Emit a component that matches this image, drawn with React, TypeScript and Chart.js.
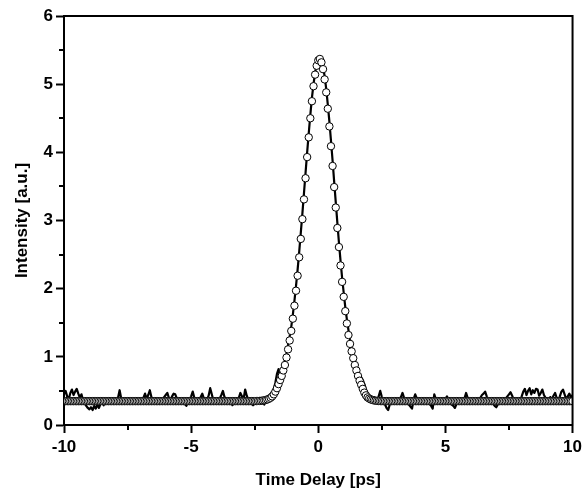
import React, { useEffect, useRef } from "react";
import { Chart, registerables } from "chart.js";

Chart.register(...registerables);

// Sampling grid of the delay scan (ps)
const X_START = -10;
const X_STEP = 0.0625;

const xTicks = [-10, -5, 0, 5, 10];
const yTicks = [0, 1, 2, 3, 4, 5, 6];
const xMinorTicks = [-7.5, -2.5, 2.5, 7.5];
const yMinorTicks = [0.5, 1.5, 2.5, 3.5, 4.5, 5.5];

const xTitle = "Time Delay [ps]";
const yTitle = "Intensity [a.u.]";

// Measured autocorrelation trace (solid line), 16 samples per ps
const measured = [
  0.45, 0.50, 0.42, 0.38, 0.47, 0.52, 0.44, 0.49, 0.53, 0.46, 0.40, 0.45, 0.36, 0.33, 0.28, 0.25,
  0.23, 0.26, 0.22, 0.28, 0.24, 0.30, 0.25, 0.31, 0.33, 0.29, 0.36, 0.34, 0.38, 0.35, 0.32, 0.37,
  0.35, 0.38, 0.40, 0.51, 0.39, 0.34, 0.36, 0.33, 0.37, 0.35, 0.31, 0.36, 0.38, 0.34, 0.36, 0.33,
  0.37, 0.35, 0.40, 0.46, 0.38, 0.44, 0.51, 0.41, 0.36, 0.33, 0.37, 0.35, 0.32, 0.36, 0.38, 0.41,
  0.44, 0.47, 0.40, 0.36, 0.42, 0.46, 0.45, 0.39, 0.35, 0.38, 0.33, 0.36, 0.31, 0.28, 0.34, 0.37,
  0.42, 0.49, 0.40, 0.36, 0.38, 0.35, 0.41, 0.46, 0.39, 0.34, 0.37, 0.43, 0.54, 0.45, 0.36, 0.33,
  0.36, 0.34, 0.39, 0.44, 0.50, 0.41, 0.36, 0.33, 0.37, 0.35, 0.29, 0.34, 0.38, 0.36, 0.40, 0.47,
  0.42, 0.38, 0.52, 0.43, 0.37, 0.34, 0.32, 0.29, 0.35, 0.38, 0.36, 0.39, 0.37, 0.34, 0.30, 0.36,
  0.40, 0.37, 0.43, 0.48, 0.52, 0.62, 0.75, 0.82, 0.72, 0.78, 0.86, 0.95, 1.05, 1.17, 1.30, 1.44,
  1.62, 1.82, 2.04, 2.28, 2.54, 2.82, 3.10, 3.40, 3.70, 4.00, 4.28, 4.55, 4.80, 5.00, 5.17, 5.28,
  5.34, 5.36, 5.33, 5.25, 5.12, 4.93, 4.70, 4.45, 4.17, 3.88, 3.57, 3.27, 2.97, 2.68, 2.41, 2.16,
  1.94, 1.73, 1.55, 1.39, 1.25, 1.13, 1.03, 0.94, 0.86, 0.80, 0.74, 0.70, 0.66, 0.60, 0.52, 0.46,
  0.44, 0.40, 0.37, 0.41, 0.36, 0.33, 0.42, 0.50, 0.41, 0.35, 0.30, 0.25, 0.22, 0.30, 0.36, 0.34,
  0.38, 0.35, 0.33, 0.37, 0.41, 0.47, 0.40, 0.36, 0.33, 0.30, 0.27, 0.24, 0.38, 0.45, 0.39, 0.36,
  0.34, 0.37, 0.35, 0.39, 0.33, 0.36, 0.31, 0.28, 0.24, 0.45, 0.38, 0.34, 0.37, 0.35, 0.32, 0.36,
  0.38, 0.42, 0.36, 0.33, 0.30, 0.28, 0.25, 0.31, 0.36, 0.34, 0.37, 0.35, 0.39, 0.47, 0.40, 0.35,
  0.33, 0.36, 0.34, 0.38, 0.35, 0.37, 0.40, 0.44, 0.46, 0.49, 0.42, 0.37, 0.34, 0.36, 0.31, 0.28,
  0.26, 0.30, 0.35, 0.33, 0.37, 0.35, 0.39, 0.42, 0.45, 0.48, 0.43, 0.37, 0.34, 0.36, 0.33, 0.37,
  0.42, 0.49, 0.53, 0.44, 0.50, 0.54, 0.45, 0.51, 0.47, 0.53, 0.52, 0.43, 0.47, 0.52, 0.44, 0.40,
  0.38, 0.36, 0.41, 0.37, 0.43, 0.47, 0.40, 0.36, 0.42, 0.49, 0.52, 0.45, 0.38, 0.42, 0.46, 0.40, 0.44,
];

// Fitted pulse (open circles), same grid
const fit = [
  0.35, 0.35, 0.35, 0.35, 0.35, 0.35, 0.35, 0.35, 0.35, 0.35, 0.35, 0.35, 0.35, 0.35, 0.35, 0.35,
  0.35, 0.35, 0.35, 0.35, 0.35, 0.35, 0.35, 0.35, 0.35, 0.35, 0.35, 0.35, 0.35, 0.35, 0.35, 0.35,
  0.35, 0.35, 0.35, 0.35, 0.35, 0.35, 0.35, 0.35, 0.35, 0.35, 0.35, 0.35, 0.35, 0.35, 0.35, 0.35,
  0.35, 0.35, 0.35, 0.35, 0.35, 0.35, 0.35, 0.35, 0.35, 0.35, 0.35, 0.35, 0.35, 0.35, 0.35, 0.35,
  0.35, 0.35, 0.35, 0.35, 0.35, 0.35, 0.35, 0.35, 0.35, 0.35, 0.35, 0.35, 0.35, 0.35, 0.35, 0.35,
  0.35, 0.35, 0.35, 0.35, 0.35, 0.35, 0.35, 0.35, 0.35, 0.35, 0.35, 0.35, 0.35, 0.35, 0.35, 0.35,
  0.35, 0.35, 0.35, 0.35, 0.35, 0.35, 0.35, 0.35, 0.35, 0.35, 0.35, 0.35, 0.35, 0.35, 0.35, 0.35,
  0.35, 0.35, 0.35, 0.35, 0.35, 0.35, 0.35, 0.35, 0.35, 0.351, 0.352, 0.353, 0.355, 0.358, 0.362, 0.367,
  0.375, 0.385, 0.40, 0.42, 0.45, 0.49, 0.54, 0.60, 0.66, 0.72, 0.80, 0.88, 0.99, 1.11, 1.24, 1.38,
  1.56, 1.75, 1.97, 2.19, 2.46, 2.73, 3.02, 3.31, 3.62, 3.93, 4.22, 4.50, 4.75, 4.97, 5.14, 5.27,
  5.35, 5.37, 5.32, 5.22, 5.07, 4.88, 4.64, 4.38, 4.09, 3.80, 3.49, 3.19, 2.89, 2.61, 2.34, 2.10,
  1.88, 1.67, 1.49, 1.32, 1.19, 1.08, 0.98, 0.88, 0.80, 0.72, 0.65, 0.59, 0.53, 0.475, 0.435, 0.405,
  0.388, 0.376, 0.367, 0.361, 0.357, 0.354, 0.352, 0.351, 0.35, 0.35, 0.35, 0.35, 0.35, 0.35, 0.35, 0.35,
  0.35, 0.35, 0.35, 0.35, 0.35, 0.35, 0.35, 0.35, 0.35, 0.35, 0.35, 0.35, 0.35, 0.35, 0.35, 0.35,
  0.35, 0.35, 0.35, 0.35, 0.35, 0.35, 0.35, 0.35, 0.35, 0.35, 0.35, 0.35, 0.35, 0.35, 0.35, 0.35,
  0.35, 0.35, 0.35, 0.35, 0.35, 0.35, 0.35, 0.35, 0.35, 0.35, 0.35, 0.35, 0.35, 0.35, 0.35, 0.35,
  0.35, 0.35, 0.35, 0.35, 0.35, 0.35, 0.35, 0.35, 0.35, 0.35, 0.35, 0.35, 0.35, 0.35, 0.35, 0.35,
  0.35, 0.35, 0.35, 0.35, 0.35, 0.35, 0.35, 0.35, 0.35, 0.35, 0.35, 0.35, 0.35, 0.35, 0.35, 0.35,
  0.35, 0.35, 0.35, 0.35, 0.35, 0.35, 0.35, 0.35, 0.35, 0.35, 0.35, 0.35, 0.35, 0.35, 0.35, 0.35,
  0.35, 0.35, 0.35, 0.35, 0.35, 0.35, 0.35, 0.35, 0.35, 0.35, 0.35, 0.35, 0.35, 0.35, 0.35, 0.35, 0.35,
];

const FONT = "'Liberation Sans', Arial, sans-serif";

const toPoints = (arr: number[]) =>
  arr.map((v, i) => ({ x: X_START + i * X_STEP, y: v }));

const framePlugin = {
  id: "frameAndMinorTicks",
  afterDraw(chart: any) {
    const { ctx, chartArea } = chart;
    const { left, right, top, bottom } = chartArea;
    const xs = chart.scales.x;
    const ys = chart.scales.y;
    ctx.save();
    ctx.strokeStyle = "#000";
    ctx.lineWidth = 2;
    ctx.beginPath();
    ctx.moveTo(left - 1, top);
    ctx.lineTo(right, top);
    ctx.lineTo(right, bottom + 1);
    xMinorTicks.forEach((v) => {
      const px = Math.round(xs.getPixelForValue(v));
      ctx.moveTo(px, bottom);
      ctx.lineTo(px, bottom + 5);
    });
    yMinorTicks.forEach((v) => {
      const py = Math.round(ys.getPixelForValue(v));
      ctx.moveTo(left, py);
      ctx.lineTo(left - 5, py);
    });
    ctx.stroke();
    ctx.restore();
  },
};

export default function App() {
  const canvasRef = useRef<HTMLCanvasElement | null>(null);

  useEffect(() => {
    const canvas = canvasRef.current;
    if (!canvas) return;
    const chart = new Chart(canvas, {
      type: "scatter",
      data: {
        datasets: [
          {
            label: "Fit",
            data: toPoints(fit),
            showLine: false,
            pointRadius: 3.7,
            pointBorderWidth: 1,
            pointBackgroundColor: "#ffffff",
            pointBorderColor: "#000000",
            clip: 0,
          },
          {
            label: "Measured",
            data: toPoints(measured),
            showLine: true,
            borderColor: "#000000",
            borderWidth: 2.2,
            borderJoinStyle: "round",
            borderCapStyle: "round",
            pointRadius: 0,
            tension: 0,
            clip: 0,
          },
        ],
      },
      options: {
        responsive: false,
        animation: false,
        devicePixelRatio: 1,
        layout: { padding: { top: 16, right: 13, bottom: 0, left: 0 } },
        plugins: {
          legend: { display: false },
          tooltip: { enabled: false },
        },
        scales: {
          x: {
            type: "linear",
            min: -10,
            max: 10,
            afterBuildTicks: (s: any) => {
              s.ticks = xTicks.map((v) => ({ value: v }));
            },
            afterFit: (s: any) => {
              s.height = 75;
            },
            ticks: {
              color: "#000",
              padding: 4,
              maxRotation: 0,
              font: { family: FONT, size: 17, weight: "bold" },
              callback: (v: any) => String(v),
            },
            grid: {
              drawOnChartArea: false,
              drawTicks: true,
              tickLength: 8,
              tickWidth: 2,
              tickColor: "#000",
            },
            border: { display: true, color: "#000", width: 2 },
            title: {
              display: true,
              text: xTitle,
              color: "#000",
              font: { family: FONT, size: 17, weight: "bold" },
              padding: { top: 0, bottom: 9 },
            },
          },
          y: {
            type: "linear",
            min: 0,
            max: 6,
            afterBuildTicks: (s: any) => {
              s.ticks = yTicks.map((v) => ({ value: v }));
            },
            afterFit: (s: any) => {
              s.width = 64;
            },
            ticks: {
              color: "#000",
              padding: 3,
              font: { family: FONT, size: 17, weight: "bold" },
              callback: (v: any) => String(v),
            },
            grid: {
              drawOnChartArea: false,
              drawTicks: true,
              tickLength: 8,
              tickWidth: 2,
              tickColor: "#000",
            },
            border: { display: true, color: "#000", width: 2 },
            title: {
              display: true,
              text: yTitle,
              color: "#000",
              font: { family: FONT, size: 17, weight: "bold" },
              padding: { top: 12, bottom: 0 },
            },
          },
        },
      },
      plugins: [framePlugin],
    });
    return () => chart.destroy();
  }, []);

  return (
    <div style={{ position: "fixed", left: 0, top: 0, width: 586, height: 500, background: "#fff" }}>
      <canvas ref={canvasRef} width={586} height={500} style={{ display: "block" }} />
    </div>
  );
}
